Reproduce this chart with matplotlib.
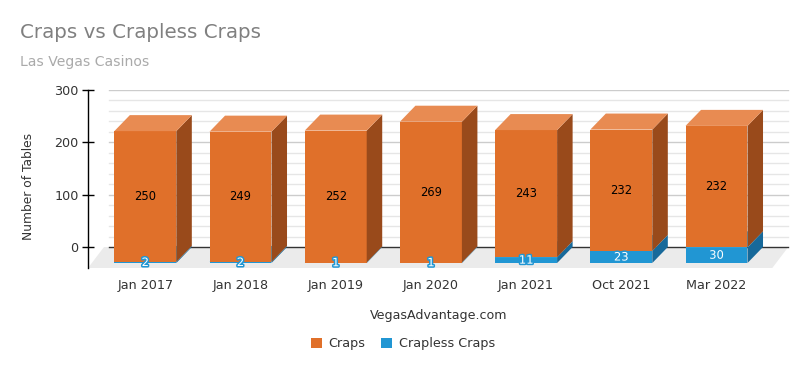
import matplotlib
matplotlib.use("Agg")
import matplotlib.pyplot as plt
from matplotlib.patches import Polygon, Patch
import matplotlib.patheffects as pe

categories = ["Jan 2017", "Jan 2018", "Jan 2019", "Jan 2020", "Jan 2021", "Oct 2021", "Mar 2022"]
craps = [250, 249, 252, 269, 243, 232, 232]
crapless = [2, 2, 1, 1, 11, 23, 30]
yticks = [0, 100, 200, 300]

W, H = 807, 371
fig = plt.figure(figsize=(W / 100, H / 100), dpi=100)
plt.rcParams['font.family'] = ['DejaVu Sans']

# axes geometry (pixels)
ax_l, ax_r, ax_t, ax_b = 88, 790, 90, 268
ax = fig.add_axes([ax_l / W, 1 - ax_b / H, (ax_r - ax_l) / W, (ax_b - ax_t) / H])
ax.set_xlim(-0.602, 6.772)
ax.set_ylim(-40.1, 300)

# 3D depth offsets (style)
ddx = 0.163
ddy = 30.6
bw = 0.651
front_off = -ddy

c_orange = "#E0702A"
c_orange_top = "#E88B52"
c_orange_side = "#994A1B"
c_blue = "#2196D3"
c_blue_top = "#4FB0E0"
c_blue_side = "#17699A"

# back wall grid lines
gx0, gx1 = -0.381, 6.754
for v in range(0, 301, 20):
    if v == 0:
        col, lw = "#333333", 1.0
    elif v % 100 == 0:
        col, lw = "#cccccc", 1.0
    else:
        col, lw = "#e6e6e6", 1.0
    ax.plot([gx0, gx1], [v, v], color=col, lw=lw, zorder=1)

# floor
fdx, fdy = 0.168, 40.1
floor = Polygon([(gx0 - 0.053, 0), (gx1, 0), (gx1 - fdx, -fdy), (gx0 - 0.053 - fdx, -fdy)],
                closed=True, facecolor="#ebebeb", edgecolor="none", zorder=0.5)
ax.add_patch(floor)

xs = list(range(len(categories)))

def box(x, y0, y1, fc, tc, sc, z):
    ax.bar(x, y1 - y0, bottom=y0, width=bw, color=fc, edgecolor="none", zorder=z)
    xr = x + bw / 2
    xl = x - bw / 2
    ax.add_patch(Polygon([(xr, y0), (xr + ddx, y0 + ddy), (xr + ddx, y1 + ddy), (xr, y1)],
                         closed=True, facecolor=sc, edgecolor="none", zorder=z))
    ax.add_patch(Polygon([(xl, y1), (xr, y1), (xr + ddx, y1 + ddy), (xl + ddx, y1 + ddy)],
                         closed=True, facecolor=tc, edgecolor="none", zorder=z))

for i, x in enumerate(xs):
    z = 3 + i * 0.01
    b0 = front_off
    b1 = front_off + crapless[i]
    b2 = b1 + craps[i]
    box(x, b0, b1, c_blue, c_blue_top, c_blue_side, z)
    box(x, b1, b2, c_orange, c_orange_top, c_orange_side, z + 0.001)
    ax.text(x, (b1 + b2) / 2, str(craps[i]), ha="center", va="center",
            fontsize=8.3, color="black", zorder=10)
    t = ax.text(x, (b0 + b1) / 2, str(crapless[i]), ha="center", va="center",
                fontsize=8.3, color="white", zorder=10)
    t.set_path_effects([pe.withStroke(linewidth=2.2, foreground=c_blue)])

# axes styling
for s in ["top", "right", "bottom"]:
    ax.spines[s].set_visible(False)
ax.spines["left"].set_color("black")
ax.spines["left"].set_linewidth(1.0)
ax.set_yticks(yticks)
ax.set_yticklabels([str(v) for v in yticks])
ax.tick_params(axis="y", direction="inout", length=8.6, width=1.0, color="black",
               labelsize=9.2, labelcolor="#333333", pad=2.5)
ax.set_xticks(xs)
ax.set_xticklabels(categories)
ax.tick_params(axis="x", length=0, labelsize=9.2, labelcolor="#333333", pad=8)
ax.set_facecolor("none")

fig.text(28 / W, 1 - 186 / H, "Number of Tables", rotation=90, ha="center", va="center",
         fontsize=8.8, color="#333333")

fig.text(20 / W, 1 - 33 / H, "Craps vs Crapless Craps", ha="left", va="center",
         fontsize=14.3, color="#808080")
fig.text(20 / W, 1 - 62 / H, "Las Vegas Casinos", ha="left", va="center",
         fontsize=10.1, color="#aaaaaa")
fig.text(439 / W, 1 - 316 / H, "VegasAdvantage.com", ha="center", va="center",
         fontsize=9.1, color="#333333")

handles = [Patch(facecolor=c_orange, edgecolor="none", label="Craps"),
           Patch(facecolor=c_blue, edgecolor="none", label="Crapless Craps")]
leg = fig.legend(handles=handles, loc="center", bbox_to_anchor=(403 / W, 1 - 344 / H),
                 ncol=2, frameon=False, fontsize=9.2, handlelength=0.85, handleheight=0.85,
                 handletextpad=0.55, columnspacing=1.2)
for t in leg.get_texts():
    t.set_color("#333333")

fig.savefig("out.png", dpi=100)
